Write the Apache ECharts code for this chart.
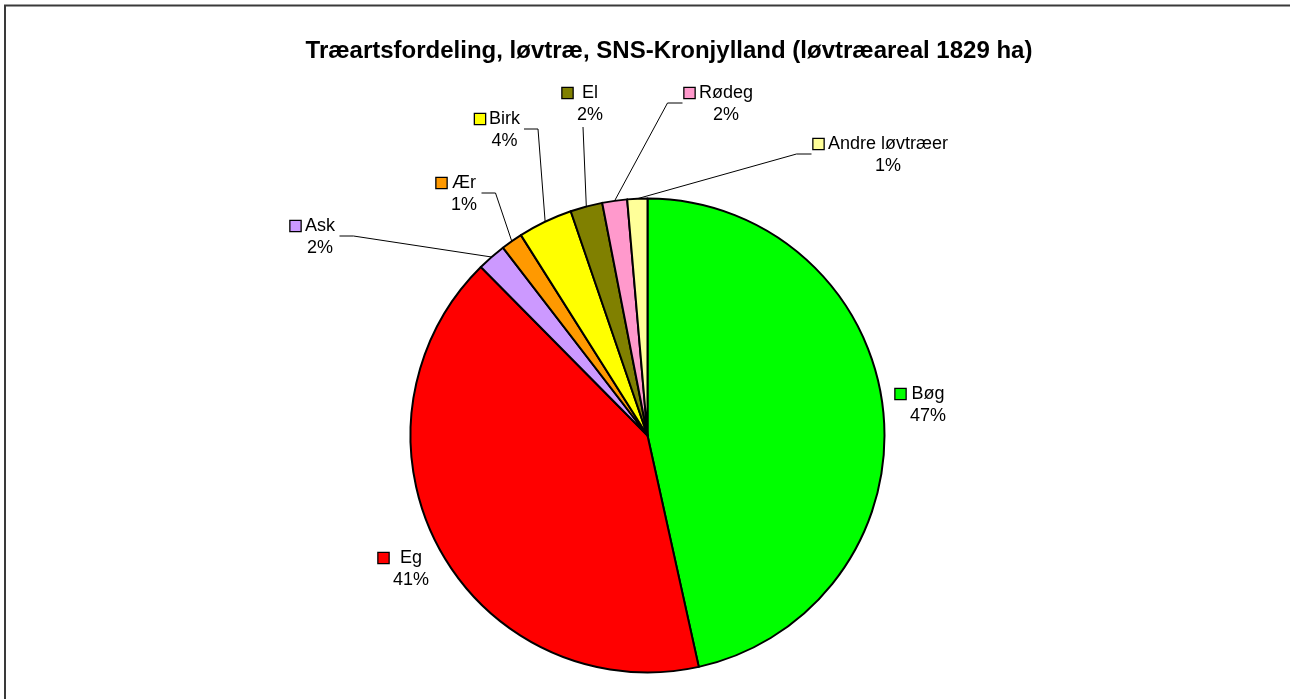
<!DOCTYPE html>
<html><head><meta charset="utf-8">
<script src="https://cdn.jsdelivr.net/npm/echarts@6/dist/echarts.min.js"></script>
<style>html,body{margin:0;padding:0;background:#fff}#c{width:1290px;height:699px}</style>
</head><body><div id="c"></div>
<script>
const titleText = 'Træartsfordeling, løvtræ, SNS-Kronjylland (løvtræareal 1829 ha)';
const categories = ['Bøg', 'Eg', 'Ask', 'Ær', 'Birk', 'El', 'Rødeg', 'Andre løvtræer'];
const areaHa = [851, 751, 36, 27, 68, 40, 31, 25];

// styles / placement (kept apart from data)
const colors = ['#00FF00', '#FF0000', '#CC99FF', '#FF9900', '#FFFF00', '#808000', '#FF99CC', '#FFFF99'];
const labelPos = [
  { x: 928, y: 405, line: 'none' },
  { x: 411, y: 569, line: 'none' },
  { x: 320, y: 237, line: 'right' },
  { x: 464, y: 194, line: 'right' },
  { x: 504.5, y: 130, line: 'right' },
  { x: 590, y: 104, line: 'bottom' },
  { x: 726, y: 104, line: 'left' },
  { x: 888, y: 155, line: 'left' }
];
const FONT_FAMILY = "'Liberation Sans', Arial, sans-serif";
const FONT_SIZE = 18;
const LINE_H = 22;
const KEY = 10, GAP = 4;

const total = areaHa.reduce((a, b) => a + b, 0);
const cvs = document.createElement('canvas').getContext('2d');
cvs.font = FONT_SIZE + 'px ' + FONT_FAMILY;
const widths = categories.map((n, i) => {
  const pct = Math.round(areaHa[i] / total * 100) + '%';
  return Math.ceil(Math.max(cvs.measureText(n).width, cvs.measureText(pct).width));
});

const data = categories.map((name, i) => {
  const pct = Math.round(areaHa[i] / total * 100) + '%';
  return {
    name: name,
    value: areaHa[i],
    itemStyle: { color: colors[i] },
    labelLine: { show: labelPos[i].line !== 'none' },
    label: {
      formatter: '{k|}{g|}{t|' + name + '}\n{s|}{t|' + pct + '}',
      rich: {
        k: { width: KEY, height: KEY, backgroundColor: colors[i], borderColor: '#000', borderWidth: 1.3 },
        g: { width: GAP },
        s: { width: KEY + GAP },
        t: { width: widths[i], align: 'center', fontSize: FONT_SIZE, fontFamily: FONT_FAMILY, color: '#000', lineHeight: LINE_H }
      }
    }
  };
});

const chart = echarts.init(document.getElementById('c'), null, { renderer: 'canvas' });
chart.setOption({
  animation: false,
  backgroundColor: '#ffffff',
  title: {
    text: titleText,
    left: 664,
    textAlign: 'center',
    top: 34,
    textStyle: { fontFamily: FONT_FAMILY, fontSize: 24, fontWeight: 'bold', color: '#000' }
  },
  graphic: [{
    type: 'rect', shape: { x: 5, y: 5.5, width: 1320, height: 720 },
    style: { fill: null, stroke: '#3a3a3a', lineWidth: 2 }, silent: true
  }],
  series: [{
    type: 'pie',
    center: [647.5, 435.5],
    radius: 237,
    startAngle: 90,
    clockwise: true,
    avoidLabelOverlap: false,
    minShowLabelAngle: 0,
    emphasis: { disabled: true },
    itemStyle: { borderColor: '#000', borderWidth: 2 },
    label: { show: true, position: 'outside', fontSize: FONT_SIZE, fontFamily: FONT_FAMILY, color: '#000', lineHeight: LINE_H },
    labelLine: { show: true, length: 10, length2: 10, smooth: false, lineStyle: { color: '#000', width: 1 } },
    labelLayout: function (params) {
      const i = params.dataIndex;
      const p = labelPos[i];
      const w = widths[i];
      const out = { x: p.x - (KEY + GAP) / 2, y: p.y, align: 'center', verticalAlign: 'middle' };
      if (p.line !== 'none') {
        let start = params.labelLinePoints && params.labelLinePoints[0];
        if (!start) {
          let before = 0;
          for (let j = 0; j < i; j++) before += areaHa[j];
          const mid = (before + areaHa[i] / 2) / total * 2 * Math.PI;
          start = [647.5 + 237 * Math.sin(mid), 435.5 - 237 * Math.cos(mid)];
        }
        let end, elbow;
        if (p.line === 'right') {
          end = [p.x + w / 2 + 4, p.y - 1];
          elbow = [end[0] + 14, end[1]];
        } else if (p.line === 'left') {
          end = [p.x - w / 2 - KEY - GAP - 2, p.y - 1];
          elbow = [end[0] - 15, end[1]];
        } else {
          end = [p.x - 7, p.y + LINE_H + 1];
          elbow = end.slice();
        }
        out.labelLinePoints = [start, elbow, end];
      }
      return out;
    },
    data: data
  }]
});
</script>
</body></html>
